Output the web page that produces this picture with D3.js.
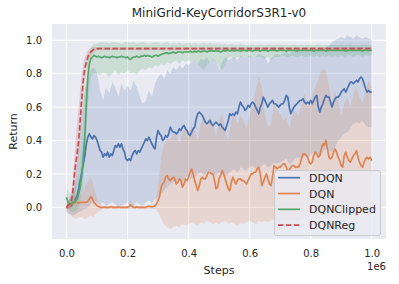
<!DOCTYPE html>
<html><head><meta charset="utf-8">
<script src="https://cdn.jsdelivr.net/npm/d3@7"></script>
<style>body{margin:0;background:#fff}svg{display:block;font-family:"DejaVu Sans",sans-serif}</style>
</head><body><svg id="c" width="399" height="284"></svg>
<script>
// ---------- DATA ----------
const title = "MiniGrid-KeyCorridorS3R1-v0";
const xLabel = "Steps";
const yLabel = "Return";
const xOffsetLabel = "1e6";
const seriesNames = ["DDQN", "DQN", "DQNClipped", "DQNReg"];
const xTicks = [0.0, 0.2, 0.4, 0.6, 0.8, 1.0];
const yTicks = [0.0, 0.2, 0.4, 0.6, 0.8, 1.0];

// step grids (in units of 1e6)
const stepsFine = d3.range(201).map(i => i * 0.005);
const stepsBand = d3.range(101).map(i => i * 0.01);

const ddqnMean = [
0.00,0.00,0.01,0.01,0.02,0.03,0.05,0.07,0.11,0.16,0.21,0.26,0.31,0.38,0.42,0.44,0.42,0.41,0.43,0.42,
0.40,0.37,0.34,0.33,0.30,0.32,0.31,0.33,0.30,0.32,0.31,0.34,0.37,0.36,0.38,0.36,0.38,0.35,0.33,0.29,
0.28,0.29,0.28,0.31,0.33,0.34,0.32,0.34,0.33,0.35,0.37,0.39,0.41,0.40,0.42,0.40,0.38,0.36,0.35,0.42,
0.46,0.44,0.43,0.40,0.41,0.43,0.42,0.44,0.48,0.46,0.45,0.45,0.44,0.45,0.47,0.46,0.48,0.49,0.47,0.46,
0.44,0.43,0.45,0.47,0.48,0.53,0.56,0.57,0.56,0.55,0.53,0.51,0.50,0.51,0.52,0.50,0.49,0.50,0.51,0.50,
0.49,0.50,0.48,0.47,0.46,0.49,0.52,0.56,0.55,0.56,0.55,0.57,0.56,0.60,0.63,0.61,0.60,0.58,0.59,0.61,
0.60,0.62,0.63,0.62,0.60,0.58,0.56,0.60,0.62,0.66,0.64,0.62,0.60,0.62,0.63,0.64,0.62,0.62,0.61,0.60,
0.61,0.62,0.62,0.64,0.67,0.66,0.60,0.56,0.58,0.60,0.61,0.62,0.63,0.64,0.64,0.65,0.63,0.62,0.63,0.62,
0.64,0.62,0.64,0.66,0.67,0.60,0.57,0.60,0.62,0.65,0.67,0.66,0.66,0.63,0.60,0.63,0.65,0.66,0.66,0.67,
0.69,0.70,0.71,0.69,0.71,0.73,0.75,0.75,0.74,0.75,0.76,0.75,0.77,0.78,0.77,0.74,0.71,0.69,0.70,0.69,0.69];

const dqnMean = [
0.00,0.00,0.01,0.02,0.02,0.03,0.03,0.03,0.025,0.03,0.03,0.03,0.03,0.03,0.035,0.05,0.065,0.05,0.03,0.02,
0.01,0.005,0.00,0.00,0.00,0.002,0.00,0.00,0.00,0.003,0.00,0.00,0.00,0.00,0.002,0.00,0.00,0.00,0.00,0.00,
0.00,0.005,0.015,0.005,0.00,0.00,0.002,0.00,0.00,0.00,0.00,0.00,0.002,0.005,0.005,0.005,0.003,0.005,0.01,0.02,
0.04,0.065,0.12,0.14,0.15,0.18,0.19,0.17,0.16,0.17,0.18,0.17,0.14,0.15,0.17,0.16,0.12,0.14,0.17,0.16,
0.18,0.21,0.23,0.20,0.16,0.13,0.10,0.13,0.17,0.18,0.17,0.17,0.19,0.21,0.21,0.20,0.20,0.16,0.11,0.12,
0.17,0.19,0.22,0.20,0.17,0.14,0.11,0.10,0.15,0.18,0.16,0.14,0.16,0.17,0.17,0.16,0.16,0.15,0.14,0.16,
0.18,0.20,0.20,0.21,0.21,0.23,0.24,0.20,0.13,0.15,0.18,0.20,0.17,0.14,0.13,0.18,0.25,0.24,0.23,0.24,
0.24,0.25,0.26,0.26,0.24,0.22,0.22,0.24,0.25,0.25,0.24,0.24,0.24,0.26,0.29,0.32,0.32,0.31,0.30,0.27,
0.26,0.27,0.31,0.33,0.32,0.30,0.31,0.35,0.38,0.37,0.40,0.35,0.30,0.29,0.30,0.33,0.35,0.33,0.30,0.28,
0.25,0.24,0.31,0.33,0.30,0.28,0.27,0.29,0.31,0.32,0.34,0.30,0.27,0.25,0.24,0.27,0.29,0.30,0.29,0.30,0.28];

const clippedMean = [
0.06,0.03,0.02,0.02,0.03,0.03,0.04,0.05,0.08,0.12,0.19,0.30,0.42,0.62,0.78,0.86,0.89,0.90,0.91,0.905,
0.90,0.905,0.90,0.895,0.90,0.905,0.90,0.90,0.895,0.90,0.905,0.90,0.90,0.895,0.90,0.90,0.905,0.90,0.90,0.895,
0.90,0.89,0.885,0.895,0.90,0.90,0.905,0.90,0.90,0.905,0.905,0.91,0.905,0.91,0.905,0.905,0.90,0.905,0.91,0.91,
0.905,0.91,0.915,0.92,0.92,0.925,0.925,0.92,0.925,0.925,0.93,0.925,0.925,0.93,0.93,0.93,0.925,0.93,0.93,0.93,
0.93,0.935,0.93,0.93,0.935,0.93,0.935,0.935,0.93,0.935,0.935,0.935,0.93,0.935,0.935,0.94,0.935,0.935,0.94,0.935,
0.935,0.93,0.935,0.94,0.935,0.94,0.94,0.935,0.94,0.94,0.935,0.94,0.94,0.94,0.935,0.94,0.94,0.94,0.935,0.94,
0.94,0.94,0.935,0.94,0.94,0.94,0.94,0.935,0.94,0.94,0.94,0.94,0.935,0.94,0.94,0.94,0.94,0.94,0.935,0.94,
0.94,0.94,0.94,0.94,0.935,0.94,0.94,0.94,0.94,0.94,0.94,0.935,0.94,0.94,0.94,0.94,0.94,0.94,0.94,0.94,
0.94,0.94,0.935,0.94,0.94,0.94,0.94,0.94,0.94,0.94,0.935,0.94,0.94,0.94,0.94,0.94,0.94,0.94,0.94,0.94,
0.94,0.94,0.94,0.935,0.94,0.94,0.94,0.94,0.94,0.94,0.94,0.94,0.94,0.94,0.935,0.94,0.94,0.94,0.94,0.94,0.94];

const regMean = [
0.00,0.01,0.02,0.03,0.08,0.18,0.26,0.32,0.40,0.52,0.65,0.76,0.83,0.87,0.90,0.92,0.93,0.94,0.945,0.948,
0.95,0.95,0.95,0.95,0.95,0.95,0.95,0.95,0.95,0.95,0.95,0.95,0.95,0.95,0.95,0.95,0.95,0.95,0.95,0.95,
0.95,0.95,0.95,0.95,0.95,0.95,0.95,0.95,0.95,0.95,0.95,0.95,0.95,0.95,0.95,0.95,0.95,0.95,0.95,0.95,
0.95,0.95,0.95,0.95,0.95,0.95,0.95,0.95,0.95,0.95,0.95,0.95,0.95,0.95,0.95,0.95,0.95,0.95,0.95,0.95,
0.95,0.95,0.95,0.95,0.95,0.95,0.95,0.95,0.95,0.95,0.95,0.95,0.95,0.95,0.95,0.95,0.95,0.95,0.95,0.95,
0.95,0.95,0.95,0.95,0.95,0.95,0.95,0.95,0.95,0.95,0.95,0.95,0.95,0.95,0.95,0.95,0.95,0.95,0.95,0.95,
0.95,0.95,0.95,0.95,0.95,0.95,0.95,0.95,0.95,0.95,0.95,0.95,0.95,0.95,0.95,0.95,0.95,0.95,0.95,0.95,
0.95,0.95,0.95,0.95,0.95,0.95,0.95,0.95,0.95,0.95,0.95,0.95,0.95,0.95,0.95,0.95,0.95,0.95,0.95,0.95,
0.95,0.95,0.95,0.95,0.95,0.95,0.95,0.95,0.95,0.95,0.95,0.95,0.95,0.95,0.95,0.95,0.95,0.95,0.95,0.95,
0.95,0.95,0.95,0.95,0.95,0.95,0.95,0.95,0.95,0.95,0.95,0.95,0.95,0.95,0.95,0.95,0.95,0.95,0.95,0.95,0.95];

// uncertainty bands on the 0.01 grid
const ddqnLow = [
-0.03,-0.04,-0.05,-0.04,-0.03,-0.02,-0.01,0.00,0.02,0.04,
0.03,0.02,0.03,0.01,0.02,0.03,0.02,0.00,0.01,0.02,
0.03,0.00,0.01,0.03,0.02,0.01,0.03,0.04,0.02,0.05,
0.06,0.08,0.10,0.12,0.14,0.15,0.16,0.17,0.15,0.18,
0.19,0.17,0.18,0.20,0.21,0.19,0.20,0.22,0.20,0.19,
0.21,0.20,0.18,0.20,0.22,0.23,0.21,0.24,0.23,0.22,
0.24,0.25,0.23,0.22,0.25,0.26,0.24,0.25,0.27,0.26,
0.27,0.28,0.29,0.26,0.27,0.29,0.30,0.29,0.31,0.30,
0.31,0.33,0.32,0.30,0.33,0.35,0.34,0.33,0.36,0.40,
0.42,0.44,0.45,0.47,0.50,0.51,0.50,0.52,0.49,0.48,0.48];
const ddqnHigh = [
0.03,0.05,0.08,0.16,0.35,0.55,0.70,0.78,0.82,0.84,
0.80,0.70,0.64,0.72,0.68,0.75,0.72,0.66,0.74,0.70,
0.73,0.70,0.76,0.72,0.66,0.62,0.64,0.70,0.66,0.74,
0.78,0.80,0.77,0.82,0.80,0.84,0.82,0.85,0.83,0.86,
0.85,0.87,0.88,0.86,0.89,0.88,0.90,0.87,0.89,0.88,
0.82,0.87,0.90,0.88,0.89,0.90,0.88,0.91,0.89,0.90,
0.91,0.89,0.90,0.92,0.91,0.90,0.86,0.89,0.91,0.92,
0.91,0.92,0.93,0.92,0.93,0.94,0.93,0.94,0.93,0.94,
0.95,0.94,0.95,0.94,0.95,0.96,0.97,0.99,1.00,1.01,
1.02,1.01,1.03,1.02,1.01,1.03,1.02,1.01,1.02,1.01,1.00];
const dqnLow = [
-0.02,-0.04,-0.06,-0.07,-0.06,-0.06,-0.07,-0.06,-0.05,-0.06,
-0.03,-0.02,-0.01,-0.01,-0.01,-0.01,-0.01,-0.01,-0.01,-0.01,
-0.01,-0.01,-0.01,-0.01,-0.01,-0.01,-0.01,-0.01,-0.01,-0.01,
-0.03,-0.07,-0.10,-0.12,-0.13,-0.12,-0.11,-0.12,-0.10,-0.11,
-0.10,-0.09,-0.10,-0.11,-0.09,-0.10,-0.08,-0.09,-0.10,-0.09,
-0.10,-0.09,-0.08,-0.10,-0.09,-0.10,-0.11,-0.09,-0.10,-0.09,
-0.08,-0.09,-0.10,-0.08,-0.09,-0.08,-0.09,-0.08,-0.07,-0.08,
-0.08,-0.07,-0.08,-0.07,-0.08,-0.07,-0.08,-0.07,-0.07,-0.06,
-0.07,-0.07,-0.06,-0.07,-0.06,-0.07,-0.06,-0.06,-0.07,-0.06,
-0.06,-0.05,-0.06,-0.06,-0.05,-0.06,-0.05,-0.05,-0.06,-0.05,-0.05];
const dqnHigh = [
0.02,0.04,0.06,0.08,0.07,0.08,0.12,0.15,0.18,0.12,
0.05,0.02,0.01,0.01,0.01,0.01,0.01,0.01,0.01,0.01,
0.01,0.04,0.01,0.01,0.01,0.01,0.01,0.01,0.01,0.03,
0.12,0.30,0.38,0.42,0.40,0.44,0.43,0.38,0.45,0.47,
0.44,0.49,0.46,0.40,0.50,0.54,0.48,0.55,0.50,0.42,
0.52,0.56,0.46,0.40,0.52,0.56,0.50,0.55,0.52,0.47,
0.55,0.62,0.70,0.78,0.72,0.55,0.48,0.50,0.62,0.58,
0.56,0.52,0.54,0.47,0.55,0.58,0.54,0.62,0.68,0.60,
0.64,0.70,0.74,0.80,0.83,0.82,0.72,0.62,0.70,0.64,
0.55,0.62,0.66,0.60,0.68,0.72,0.66,0.62,0.70,0.76,0.72];
const clippedLow = [
0.00,-0.02,-0.03,-0.02,0.00,0.08,0.25,0.62,0.78,0.80,
0.80,0.79,0.81,0.80,0.78,0.80,0.82,0.79,0.81,0.80,
0.82,0.80,0.81,0.79,0.82,0.83,0.82,0.84,0.83,0.85,
0.84,0.86,0.85,0.87,0.86,0.87,0.88,0.86,0.88,0.87,
0.88,0.87,0.88,0.86,0.84,0.82,0.85,0.87,0.88,0.88,
0.84,0.82,0.86,0.89,0.90,0.89,0.90,0.90,0.89,0.90,
0.90,0.89,0.90,0.90,0.90,0.89,0.90,0.88,0.90,0.90,
0.90,0.91,0.90,0.90,0.91,0.90,0.90,0.91,0.90,0.90,
0.91,0.90,0.91,0.90,0.91,0.90,0.91,0.90,0.91,0.90,
0.91,0.90,0.91,0.91,0.90,0.91,0.91,0.90,0.91,0.91,0.91];
const clippedHigh = [
0.12,0.08,0.08,0.12,0.22,0.42,0.68,0.90,0.96,0.98,
0.98,0.99,0.985,0.99,0.98,0.99,0.99,0.985,0.98,0.99,
0.99,0.985,0.99,0.98,0.985,0.99,0.985,0.98,0.985,0.99,
0.985,0.98,0.985,0.99,0.98,0.985,0.98,0.985,0.98,0.98,
0.985,0.98,0.985,0.98,0.98,0.985,0.98,0.985,0.98,0.98,
0.98,0.975,0.98,0.975,0.98,0.975,0.975,0.98,0.975,0.97,
0.975,0.975,0.97,0.975,0.975,0.97,0.975,0.975,0.97,0.975,
0.975,0.97,0.975,0.97,0.975,0.975,0.97,0.975,0.97,0.975,
0.975,0.97,0.975,0.975,0.97,0.975,0.97,0.975,0.975,0.97,
0.975,0.97,0.975,0.975,0.97,0.975,0.97,0.975,0.975,0.97,0.975];
const regLow = [
-0.01,-0.01,0.00,0.10,0.28,0.50,0.75,0.86,0.91,0.93,
0.94,0.94,0.94,0.94,0.94,0.94,0.94,0.94,0.94,0.94,
0.94,0.94,0.94,0.94,0.94,0.94,0.94,0.94,0.94,0.94,
0.94,0.94,0.94,0.94,0.94,0.94,0.94,0.94,0.94,0.94,
0.94,0.94,0.94,0.94,0.94,0.94,0.94,0.94,0.94,0.94,
0.94,0.94,0.94,0.94,0.94,0.94,0.94,0.94,0.94,0.94,
0.94,0.94,0.94,0.94,0.94,0.94,0.94,0.94,0.94,0.94,
0.94,0.94,0.94,0.94,0.94,0.94,0.94,0.94,0.94,0.94,
0.94,0.94,0.94,0.94,0.94,0.94,0.94,0.94,0.94,0.94,
0.94,0.94,0.94,0.94,0.94,0.94,0.94,0.94,0.94,0.94,0.94];
const regHigh = [
0.02,0.05,0.14,0.42,0.60,0.80,0.90,0.94,0.955,0.96,
0.96,0.96,0.96,0.96,0.96,0.96,0.96,0.96,0.96,0.96,
0.96,0.96,0.96,0.96,0.96,0.96,0.96,0.96,0.96,0.96,
0.96,0.96,0.96,0.96,0.96,0.96,0.96,0.96,0.96,0.96,
0.96,0.96,0.96,0.96,0.96,0.96,0.96,0.96,0.96,0.96,
0.96,0.96,0.96,0.96,0.96,0.96,0.96,0.96,0.96,0.96,
0.96,0.96,0.96,0.96,0.96,0.96,0.96,0.96,0.96,0.96,
0.96,0.96,0.96,0.96,0.96,0.96,0.96,0.96,0.96,0.96,
0.96,0.96,0.96,0.96,0.96,0.96,0.96,0.96,0.96,0.96,
0.96,0.96,0.96,0.96,0.96,0.96,0.96,0.96,0.96,0.96,0.96];

// ---------- DRAW ----------
const colors = ["#4C72B0", "#DD8452", "#55A868", "#C44E52"];
const means = [ddqnMean, dqnMean, clippedMean, regMean];
const lows = [ddqnLow, dqnLow, clippedLow, regLow];
const highs = [ddqnHigh, dqnHigh, clippedHigh, regHigh];

const svg = d3.select("#c");
const P = {left: 52, right: 386, top: 24, bottom: 239};
const x = d3.scaleLinear().domain([0, 1]).range([66.5, 371.7]);
const y = d3.scaleLinear().domain([0, 1]).range([207.3, 40.3]);

svg.append("rect").attr("width", 399).attr("height", 284).attr("fill", "#fff");
svg.append("rect").attr("x", P.left).attr("y", P.top)
  .attr("width", P.right - P.left).attr("height", P.bottom - P.top).attr("fill", "#EAEAF2");

svg.append("defs").append("clipPath").attr("id", "clip")
  .append("rect").attr("x", P.left).attr("y", P.top)
  .attr("width", P.right - P.left).attr("height", P.bottom - P.top);

const grid = svg.append("g").attr("stroke", "#fff").attr("stroke-width", 1);
grid.selectAll("line.gx").data(xTicks).join("line")
  .attr("x1", d => x(d)).attr("x2", d => x(d)).attr("y1", P.top).attr("y2", P.bottom);
grid.selectAll("line.gy").data(yTicks).join("line")
  .attr("y1", d => y(d)).attr("y2", d => y(d)).attr("x1", P.left).attr("x2", P.right);

const gPlot = svg.append("g").attr("clip-path", "url(#clip)");
const area = d3.area().x(d => x(d.s)).y0(d => y(d.lo)).y1(d => y(d.hi));
const line = d3.line().x(d => x(d.s)).y(d => y(d.v));

means.forEach((m, k) => {
  const band = stepsBand.map((s, i) => ({s, lo: lows[k][i], hi: highs[k][i]}));
  gPlot.append("path").datum(band).attr("d", area)
    .attr("fill", colors[k]).attr("fill-opacity", 0.2).attr("stroke", "none");
});
means.forEach((m, k) => {
  const pts = stepsFine.map((s, i) => ({s, v: m[i]}));
  gPlot.append("path").datum(pts).attr("d", line)
    .attr("fill", "none").attr("stroke", colors[k]).attr("stroke-width", 1.7)
    .attr("stroke-linejoin", "round")
    .attr("stroke-dasharray", k === 3 ? "5.5,2.4" : null);
});

// axes
const xAxis = svg.append("g").attr("transform", `translate(0,${P.bottom})`)
  .call(d3.axisBottom(x).tickValues(xTicks).tickFormat(d3.format(".1f")).tickSize(0).tickPadding(11));
const yAxis = svg.append("g").attr("transform", `translate(${P.left},0)`)
  .call(d3.axisLeft(y).tickValues(yTicks).tickFormat(d3.format(".1f")).tickSize(0).tickPadding(10));
[xAxis, yAxis].forEach(a => {
  a.select(".domain").remove();
  a.selectAll("text").attr("font-size", 10).attr("fill", "#262626")
    .attr("font-family", "DejaVu Sans, sans-serif");
});

svg.append("text").attr("x", (P.left + P.right) / 2).attr("y", 17)
  .attr("text-anchor", "middle").attr("font-size", 12).attr("fill", "#262626").text(title);
svg.append("text").attr("x", (P.left + P.right) / 2).attr("y", 274)
  .attr("text-anchor", "middle").attr("font-size", 11).attr("fill", "#262626").text(xLabel);
svg.append("text").attr("x", P.right).attr("y", 270)
  .attr("text-anchor", "end").attr("font-size", 10).attr("fill", "#262626").text(xOffsetLabel);
svg.append("text").attr("transform", `translate(17,${(P.top + P.bottom) / 2}) rotate(-90)`)
  .attr("text-anchor", "middle").attr("font-size", 11).attr("fill", "#262626").text(yLabel);

// legend
const lg = svg.append("g");
lg.append("rect").attr("x", 274.5).attr("y", 170.5).attr("width", 106).attr("height", 65)
  .attr("rx", 2.5).attr("fill", "#EAEAF2").attr("fill-opacity", 0.8)
  .attr("stroke", "#CCCCCC").attr("stroke-width", 1);
seriesNames.forEach((n, k) => {
  const cy = 177.7 + k * 15.8;
  lg.append("line").attr("x1", 278).attr("x2", 300).attr("y1", cy).attr("y2", cy)
    .attr("stroke", colors[k]).attr("stroke-width", 1.7)
    .attr("stroke-dasharray", k === 3 ? "5.5,2.4" : null);
  lg.append("text").attr("x", 309).attr("y", cy + 4).attr("font-size", 11)
    .attr("fill", "#262626").text(n);
});
</script></body></html>
